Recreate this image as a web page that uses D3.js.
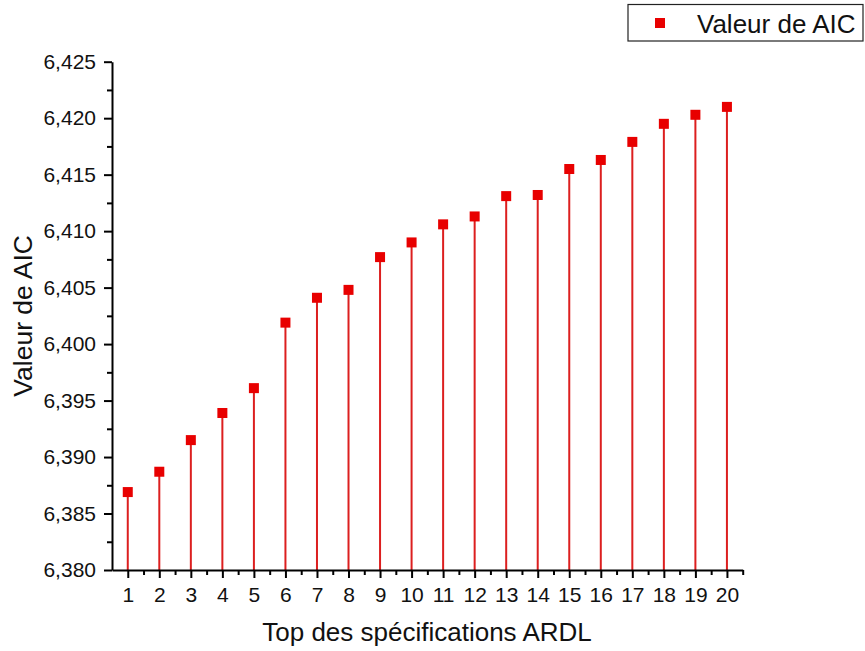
<!DOCTYPE html>
<html>
<head>
<meta charset="utf-8">
<script src="https://cdn.jsdelivr.net/npm/d3@7"></script>
<style>
  html, body { margin: 0; padding: 0; background: #fff; }
  svg { display: block; font-family: "Liberation Sans", Arial, sans-serif; }
</style>
</head>
<body>
<svg id="chart" width="865" height="651"></svg>
<script>
// Ranked ARDL specifications and their AIC values
const specs = [1, 2, 3, 4, 5, 6, 7, 8, 9, 10, 11, 12, 13, 14, 15, 16, 17, 18, 19, 20];
const aicValues = [6.3869, 6.3887, 6.3915, 6.3939, 6.3961, 6.4019, 6.4041, 6.4048, 6.4077, 6.4090,
                   6.4106, 6.4113, 6.4131, 6.4132, 6.4155, 6.4163, 6.4179, 6.4195, 6.4203, 6.4210];
const yTicks = [6.380, 6.385, 6.390, 6.395, 6.400, 6.405, 6.410, 6.415, 6.420, 6.425];
const yMinorTicks = [6.3825, 6.3875, 6.3925, 6.3975, 6.4025, 6.4075, 6.4125, 6.4175, 6.4225];
const xMinorTicks = [1.5, 2.5, 3.5, 4.5, 5.5, 6.5, 7.5, 8.5, 9.5, 10.5, 11.5, 12.5, 13.5, 14.5,
                     15.5, 16.5, 17.5, 18.5, 19.5, 20.5];
const seriesName = "Valeur de AIC";
const xTitle = "Top des spécifications ARDL";
const yTitle = "Valeur de AIC";

const svg = d3.select("#chart");
const plotLeft = 112, plotRight = 742.7, plotTop = 61.7, plotBottom = 570;

const x = d3.scaleLinear().domain([0.5, 20.5]).range([plotLeft, plotRight]);
const y = d3.scaleLinear().domain([6.380, 6.425]).range([plotBottom, plotTop]);

const fmt = v => d3.format(".3f")(v).replace(".", ",");
const markerColor = "#e80000";
const stemColor = "#dc1f1f";

// Stems from the baseline up to each value
svg.append("g").selectAll("line")
  .data(specs)
  .join("line")
  .attr("x1", (d) => x(d)).attr("x2", (d) => x(d))
  .attr("y1", y(6.380)).attr("y2", (d, i) => y(aicValues[i]))
  .attr("stroke", stemColor).attr("stroke-width", 2);

// Square markers
const ms = 10;
svg.append("g").selectAll("rect")
  .data(specs)
  .join("rect")
  .attr("x", (d) => x(d) - ms / 2)
  .attr("y", (d, i) => y(aicValues[i]) - ms / 2)
  .attr("width", ms).attr("height", ms)
  .attr("fill", markerColor);

// Minor ticks
svg.append("g").attr("transform", `translate(${plotLeft},0)`)
  .call(d3.axisLeft(y).tickValues(yMinorTicks).tickSize(5).tickFormat(""))
  .call(g => g.select(".domain").remove())
  .selectAll("line").attr("stroke", "#000").attr("stroke-width", 2);
svg.append("g").attr("transform", `translate(0,${plotBottom})`)
  .call(d3.axisBottom(x).tickValues(xMinorTicks).tickSize(5).tickFormat(""))
  .call(g => g.select(".domain").remove())
  .selectAll("line").attr("stroke", "#000").attr("stroke-width", 2);

// Major axes
const yAxis = svg.append("g").attr("transform", `translate(${plotLeft},0)`)
  .call(d3.axisLeft(y).tickValues(yTicks).tickSize(8).tickSizeOuter(0).tickPadding(8).tickFormat(fmt));
const xAxis = svg.append("g").attr("transform", `translate(0,${plotBottom})`)
  .call(d3.axisBottom(x).tickValues(specs).tickSize(8).tickSizeOuter(0).tickPadding(9).tickFormat(d3.format("d")));

[yAxis, xAxis].forEach(g => {
  g.select(".domain").attr("stroke", "#000").attr("stroke-width", 2);
  g.selectAll(".tick line").attr("stroke", "#000").attr("stroke-width", 2);
  g.selectAll(".tick text").attr("fill", "#111").style("font-size", "21px")
    .style("font-family", "'Liberation Sans', Arial, sans-serif");
});

// Axis titles
svg.append("text")
  .attr("x", 427).attr("y", 641)
  .attr("text-anchor", "middle").attr("fill", "#111")
  .style("font-size", "26px")
  .text(xTitle);
svg.append("text")
  .attr("transform", `translate(32,${(plotTop + plotBottom) / 2}) rotate(-90)`)
  .attr("text-anchor", "middle").attr("fill", "#111")
  .style("font-size", "26.5px")
  .text(yTitle);

// Legend
const legend = svg.append("g");
legend.append("rect")
  .attr("x", 628).attr("y", 4.5).attr("width", 235).attr("height", 36.5)
  .attr("fill", "#fff").attr("stroke", "#222").attr("stroke-width", 1.2);
legend.append("rect")
  .attr("x", 660 - ms / 2).attr("y", 23 - ms / 2).attr("width", ms).attr("height", ms)
  .attr("fill", markerColor);
legend.append("text")
  .attr("x", 697).attr("y", 32.5).attr("fill", "#111")
  .style("font-size", "26px")
  .text(seriesName);
</script>
</body>
</html>
